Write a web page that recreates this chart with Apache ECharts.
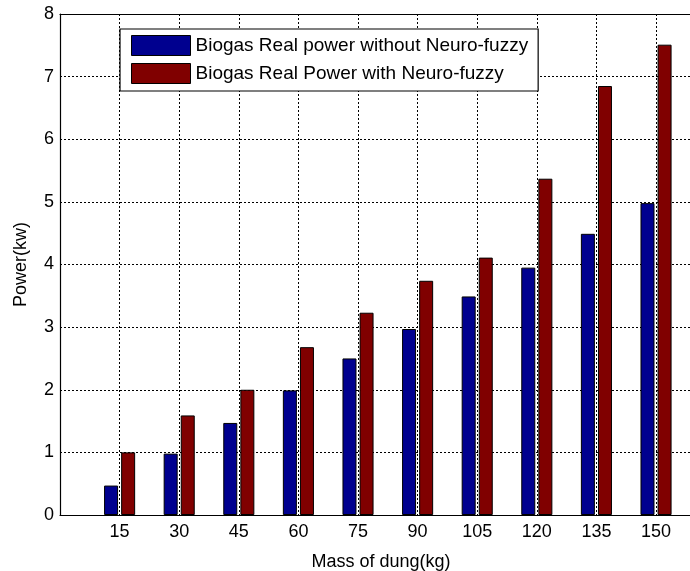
<!DOCTYPE html>
<html>
<head>
<meta charset="utf-8">
<script src="https://cdn.jsdelivr.net/npm/echarts@6/dist/echarts.min.js"></script>
<style>html,body{margin:0;padding:0;background:#fff;}#c{width:690px;height:571px;}</style>
</head>
<body>
<div id="c"></div>
<script>
const categories = ['15', '30', '45', '60', '75', '90', '105', '120', '135', '150'];
const withoutNF = [0.47, 0.98, 1.47, 1.99, 2.50, 2.97, 3.49, 3.95, 4.49, 4.98];
const withNF = [1.00, 1.59, 2.00, 2.68, 3.23, 3.74, 4.11, 5.37, 6.85, 7.51];
const seriesNames = ['Biogas Real power without Neuro-fuzzy', 'Biogas Real Power with Neuro-fuzzy'];
const yTicks = [0, 1, 2, 3, 4, 5, 6, 7, 8];
const xTitle = 'Mass of dung(kg)';
const yTitle = 'Power(kw)';

const FONT = 'Liberation Sans, Arial, Helvetica, sans-serif';
const chart = echarts.init(document.getElementById('c'), null, {renderer: 'canvas'});
const toPairs = arr => arr.map((v, i) => [i + 1, v]);
const X_MAX = 10.57; // visible part of the axes (the original figure is cropped on the right)
chart.setOption({
  animation: false,
  backgroundColor: '#fff',
  title: {
    text: xTitle, left: 376, top: 548, textAlign: 'center',
    textStyle: {fontFamily: FONT, fontSize: 18, fontWeight: 'normal', color: '#000'}
  },
  grid: {left: 60, top: 14, right: 0, height: 501, show: false},
  legend: {
    orient: 'vertical', left: 120, top: 29,
    data: seriesNames,
    icon: 'rect', itemWidth: 59, itemHeight: 20, itemGap: 7,
    backgroundColor: '#fff', borderColor: '#000', borderWidth: 1.2,
    padding: [6, 10, 7, 11],
    itemStyle: {borderColor: '#000', borderWidth: 1},
    textStyle: {fontFamily: FONT, fontSize: 19, color: '#000'}
  },
  xAxis: [{
    type: 'value', min: 0, max: X_MAX, interval: 1,
    axisLine: {show: true, lineStyle: {color: '#000', width: 1.2}},
    axisTick: {show: false},
    axisLabel: {
      margin: 8, fontFamily: FONT, fontSize: 18, color: '#000', showMaxLabel: false,
      formatter: v => categories[v - 1] || ''
    },
    splitLine: {show: true, showMinLine: false, showMaxLine: false,
                lineStyle: {color: '#000', type: [2, 2], width: 1}}
  }, {
    type: 'value', position: 'top', min: 0, max: X_MAX,
    axisLine: {show: true, lineStyle: {color: '#000', width: 1.2}},
    axisTick: {show: false}, axisLabel: {show: false}, splitLine: {show: false}
  }],
  yAxis: {
    type: 'value', min: yTicks[0], max: yTicks[yTicks.length - 1], interval: 1,
    name: yTitle, nameLocation: 'middle', nameGap: 30,
    nameTextStyle: {fontFamily: FONT, fontSize: 18, color: '#000'},
    axisLine: {show: true, lineStyle: {color: '#000', width: 1.2}},
    axisTick: {show: false},
    axisLabel: {margin: 6, fontFamily: FONT, fontSize: 18, color: '#000'},
    splitLine: {show: true, showMinLine: false, showMaxLine: false,
                lineStyle: {color: '#000', type: [2, 2], width: 1}}
  },
  series: [
    {name: seriesNames[0], type: 'bar', data: toPairs(withoutNF), barWidth: 14, barGap: '22%',
     itemStyle: {color: '#00008F', borderColor: '#000', borderWidth: 1}},
    {name: seriesNames[1], type: 'bar', data: toPairs(withNF), barWidth: 14, barGap: '22%',
     itemStyle: {color: '#800000', borderColor: '#000', borderWidth: 1}}
  ]
});
</script>
</body>
</html>
